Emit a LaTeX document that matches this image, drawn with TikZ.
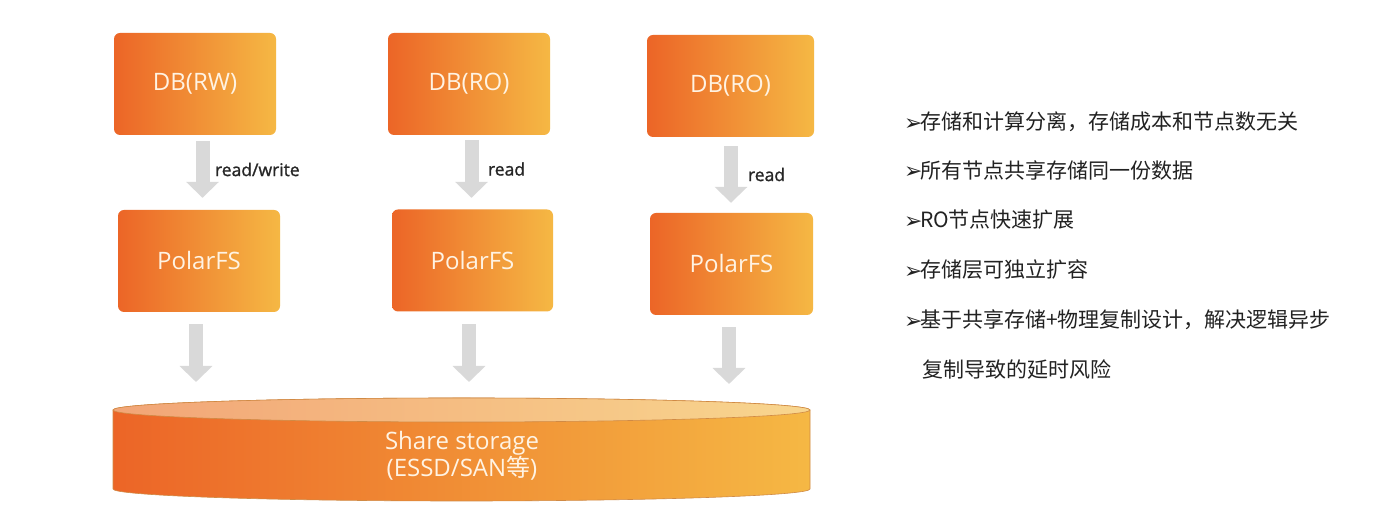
\documentclass[tikz,border=0pt]{standalone}
\usepackage{fontspec}
\setmainfont{Open Sans}
\newfontfamily\cjk{Noto Sans CJK SC}
\newfontfamily\dv{DejaVu Sans}
\newfontfamily\semib{Open Sans}[FakeBold=1.2]
\usetikzlibrary{arrows.meta}
\definecolor{orL}{HTML}{EC6527}
\definecolor{orR}{HTML}{F5B844}
\definecolor{topL}{HTML}{F2A577}
\definecolor{topR}{HTML}{F8D68E}
\definecolor{cylEdge}{HTML}{D08A45}
\definecolor{boxText}{HTML}{FFF3E3}
\definecolor{arrowGray}{HTML}{D9D9D9}
\definecolor{lblText}{HTML}{262626}
\definecolor{bulText}{HTML}{222222}
\newcommand{\bulmark}{\makebox[16pt][l]{\raisebox{-0.5pt}{\dv\fontsize{22}{24}\selectfont ➢}}}
\begin{document}
\begin{tikzpicture}[x=1pt,y=1pt,
  obox/.style={rounded corners=6pt, left color=orL, right color=orR, draw=none,
    minimum height=102pt, text=boxText, font=\fontsize{24}{28}\selectfont, inner sep=0pt},
  bigarrow/.style={draw=arrowGray, line width=14pt, -{Triangle[width=32pt,length=16pt]}},
  lbl/.style={text=lblText, font=\fontsize{17.5}{20}\selectfont\semib, inner sep=0pt, outer sep=0pt, anchor=west},
  bul/.style={text=bulText, font=\fontsize{21}{24}\selectfont\cjk, inner sep=0pt, outer sep=0pt, anchor=west},
  stortext/.style={text=boxText, font=\fontsize{24}{27}\selectfont, align=center, inner sep=0pt}]
\useasboundingbox (0,0) rectangle (1400,516);
\fill[white] (0,0) rectangle (1400,516);

% boxes
\node[obox, minimum width=162pt] (db1) at (195,432) {DB(RW)};
\node[obox, minimum width=162pt] (db2) at (469,432) {DB(RO)};
\node[obox, minimum width=167pt] (db3) at (730.5,430) {DB(RO)};
\node[obox, minimum width=162pt] (pf1) at (199,255) {PolarFS};
\node[obox, minimum width=161pt] (pf2) at (472.5,255.5) {PolarFS};
\node[obox, minimum width=163pt] (pf3) at (731.5,252) {PolarFS};

% storage cylinder
\shade[left color=orL, right color=orR, draw=cylEdge, line width=0.6pt]
  (113,106) -- (113,27) arc[start angle=180, end angle=360, x radius=348.5pt, y radius=12pt]
  -- (810,106) arc[start angle=0, end angle=180, x radius=348.5pt, y radius=12pt] -- cycle;
\shade[left color=topL, right color=topR, draw=cylEdge, line width=0.6pt]
  (461.5,106) ellipse [x radius=348.5pt, y radius=12pt];
\coordinate (stortop) at (461.5,118);
\node[stortext] (storage) at (462,60.5) {Share storage\\(ESSD/SAN{\cjk 等})};

% arrows DB -> PolarFS
\draw[bigarrow] ([xshift=7.5pt,yshift=-6pt]db1.south) -- ([xshift=3.5pt,yshift=12pt]pf1.north)
  node[lbl, midway, xshift=12.5pt] {read/write};
\draw[bigarrow] ([xshift=2.5pt,yshift=-5pt]db2.south) -- ([xshift=-1pt,yshift=11.5pt]pf2.north)
  node[lbl, midway, xshift=16.5pt] {read};
\draw[bigarrow] ([xshift=0.5pt,yshift=-9pt]db3.south) -- ([xshift=-0.5pt,yshift=10pt]pf3.north)
  node[lbl, midway, xshift=17pt] {read};

% arrows PolarFS -> storage
\draw[bigarrow] ([xshift=-3pt,yshift=-12pt]pf1.south) -- ([xshift=-3pt,yshift=16pt]pf1.south |- stortop);
\draw[bigarrow] ([xshift=-3.5pt,yshift=-12.5pt]pf2.south) -- ([xshift=-3.5pt,yshift=16pt]pf2.south |- stortop);
\draw[bigarrow] ([xshift=-2.5pt,yshift=-12pt]pf3.south) -- ([xshift=-2.5pt,yshift=14pt]pf3.south |- stortop);

% bullet list
\node[bul] (t1) at (904,394) {\bulmark 存储和计算分离，存储成本和节点数无关};
\node[bul] (t2) at (904,346) {\bulmark 所有节点共享存储同一份数据};
\node[bul] (t3) at (904,296) {\bulmark RO节点快速扩展};
\node[bul] (t4) at (904,246) {\bulmark 存储层可独立扩容};
\node[bul] (t5) at (904,196) {\bulmark 基于共享存储+物理复制设计，解决逻辑异步};
\node[bul] (t6) at (922,146) {复制导致的延时风险};
\end{tikzpicture}
\end{document}
